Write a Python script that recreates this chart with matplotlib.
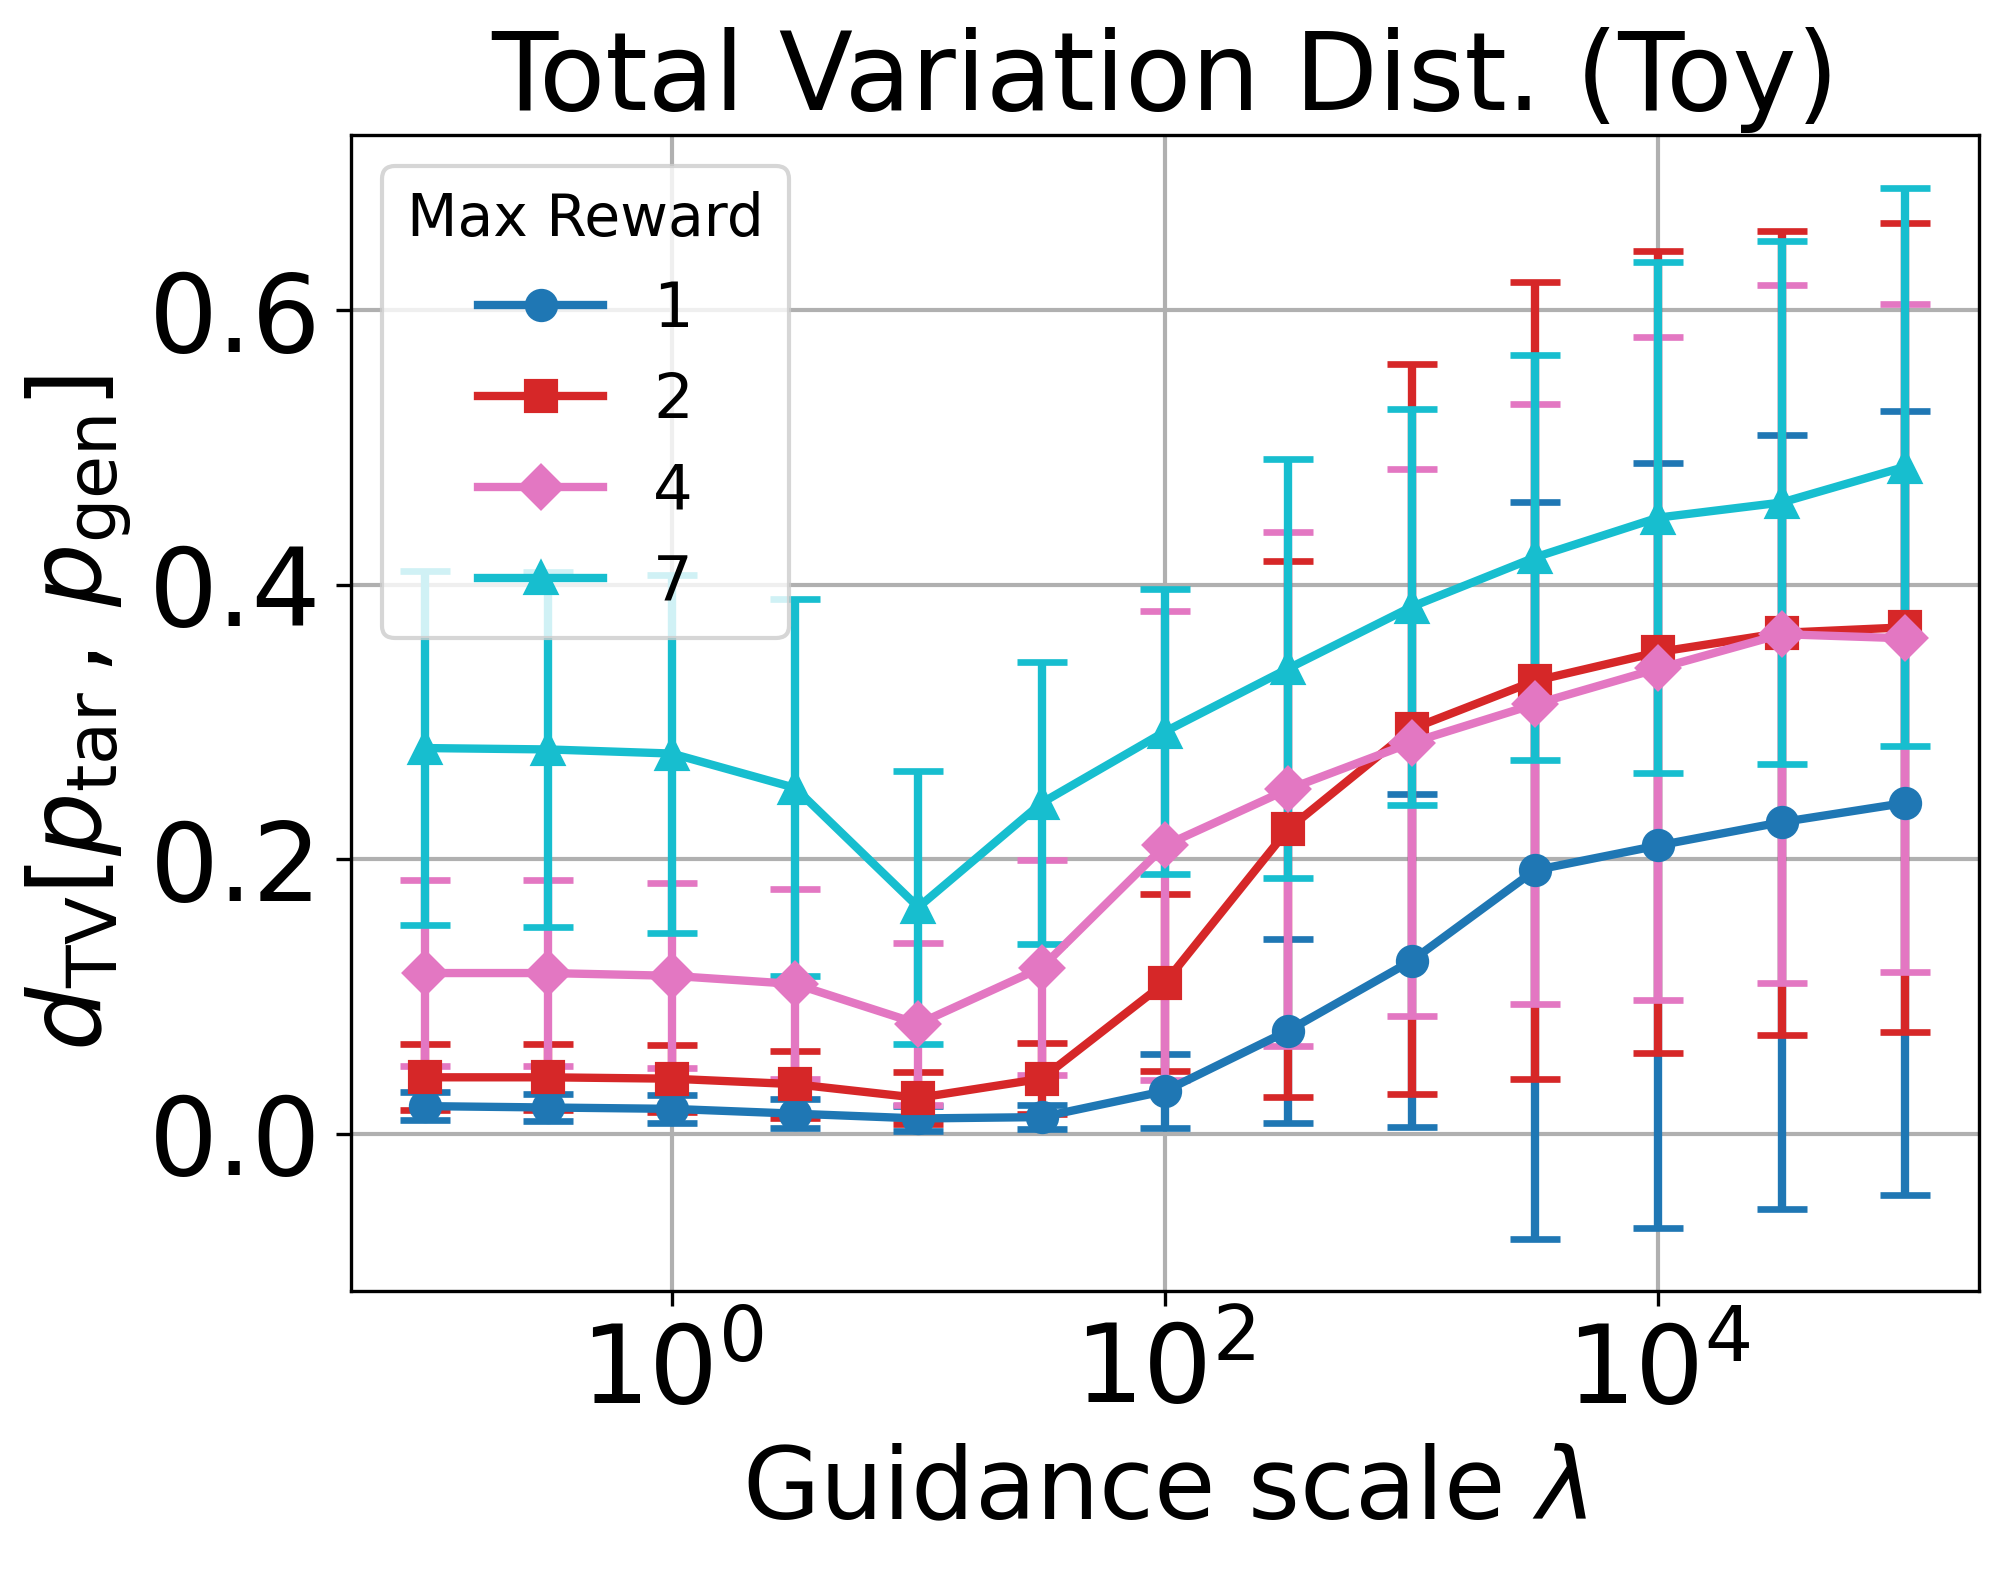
import numpy as np
import matplotlib
matplotlib.use("Agg")
import matplotlib.pyplot as plt

guidance = [0.1, 0.316, 1, 3.16, 10, 31.6, 100, 316, 1000, 3162, 10000, 31623, 100000]

mean_r1 = [0.020, 0.019, 0.018, 0.0145, 0.011, 0.012, 0.031, 0.075, 0.126, 0.192, 0.210, 0.227, 0.241]
err_r1 = [0.010, 0.010, 0.010, 0.0105, 0.009, 0.0085, 0.027, 0.067, 0.1215, 0.2685, 0.279, 0.282, 0.2855]

mean_r2 = [0.041, 0.041, 0.040, 0.036, 0.026, 0.040, 0.110, 0.222, 0.295, 0.330, 0.351, 0.365, 0.369]
err_r2 = [0.024, 0.024, 0.0245, 0.0245, 0.019, 0.026, 0.0645, 0.1955, 0.266, 0.2905, 0.292, 0.293, 0.295]

mean_r4 = [0.117, 0.117, 0.115, 0.109, 0.080, 0.121, 0.210, 0.251, 0.285, 0.313, 0.339, 0.364, 0.361]
err_r4 = [0.0675, 0.0675, 0.0675, 0.0695, 0.059, 0.0785, 0.171, 0.1875, 0.1995, 0.2185, 0.2415, 0.2545, 0.2435]

mean_r7 = [0.281, 0.280, 0.277, 0.252, 0.165, 0.241, 0.293, 0.339, 0.384, 0.420, 0.449, 0.460, 0.486]
err_r7 = [0.129, 0.1295, 0.1305, 0.1375, 0.0995, 0.103, 0.104, 0.1525, 0.1445, 0.1475, 0.1865, 0.1905, 0.2035]

labels = ["1", "2", "4", "7"]
means = [mean_r1, mean_r2, mean_r4, mean_r7]
errs = [err_r1, err_r2, err_r4, err_r7]
colors = ["tab:blue", "tab:red", "tab:pink", "tab:cyan"]
markers = ["o", "s", "D", "^"]

fig = plt.figure(figsize=(2008 / 300, 1571 / 300), dpi=300)
ax = fig.add_axes([0.1748, 0.1782, 0.9856 - 0.1748, 0.914 - 0.1782])

handles = []
for lab, m, e, c, mk in zip(labels, means, errs, colors, markers):
    cont = ax.errorbar(guidance, m, yerr=e, color=c, marker=mk, markersize=7,
                       linewidth=2, elinewidth=2, capsize=6, capthick=1.6, label=lab)
    handles.append(cont.lines[0])

ax.set_xscale("log")
ax.set_xticks([1, 100, 10000])
ax.xaxis.set_minor_locator(matplotlib.ticker.NullLocator())
ax.set_yticks([0.0, 0.2, 0.4, 0.6])
ax.set_yticklabels(["0.0", "0.2", "0.4", "0.6"])
ax.grid(True, color="#b0b0b0", linewidth=1.0)
ax.tick_params(axis="both", labelsize=26)
ax.set_xlabel(r"Guidance scale $\lambda$", fontsize=24)
ax.set_ylabel(r"$d_{\rm TV}[p_{\rm tar}\,,\,p_{\rm gen}]$", fontsize=24)
ax.set_title("Total Variation Dist. (Toy)", fontsize=26)
leg = ax.legend(handles, labels, title="Max Reward", fontsize=15, title_fontsize=14,
                loc="upper left")

fig.savefig("out.png", dpi=300)
